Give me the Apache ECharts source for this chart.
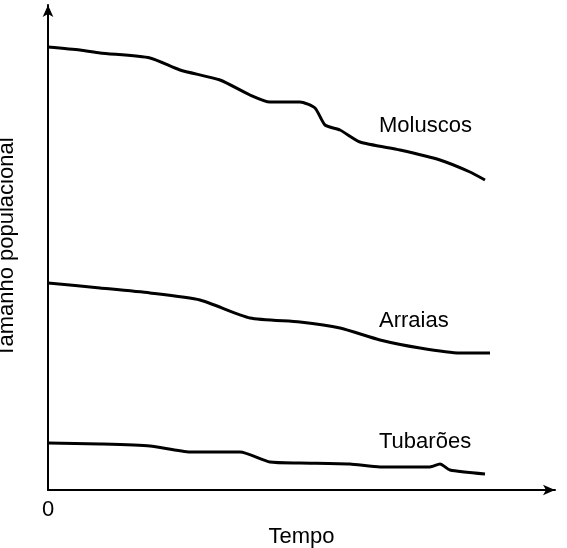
<!DOCTYPE html>
<html><head><meta charset="utf-8">
<script src="https://cdn.jsdelivr.net/npm/echarts@6/dist/echarts.min.js"></script>
<style>html,body{margin:0;padding:0;background:#fff}#c{width:567px;height:548px}</style>
</head><body><div id="c"></div>
<script>
const moluscos=[[0,443],[32,440],[52,437],[102,432],[132,420],[172,410],[202,395],[222,388],[252,388],[267,382],[277,365],[292,360],[312,348],[352,340],[392,330],[422,318],[437,310]];
const arraias=[[0,207],[52,202],[102,197],[152,190],[202,172],[252,168],[292,162],[332,150],[372,142],[412,137],[442,137]];
const tubaroes=[[0,47],[52,46],[102,44],[142,38],[192,38],[222,28],[252,27],[302,26],[332,23],[382,23],[392,26],[402,20],[437,16]];
const names=['Moluscos','Arraias','Tubarões'];
const chart=echarts.init(document.getElementById('c'));
const ln=d=>({type:'line',data:d,showSymbol:false,smooth:0.2,lineStyle:{color:'#000',width:3},silent:true});
const axl={show:true,symbol:['none','arrow'],symbolSize:[8,12],lineStyle:{color:'#000',width:2}};
const font='Liberation Sans, Arial, sans-serif';
const fs=26;
chart.setOption({
 animation:false,
 grid:{left:48,right:12,top:5,bottom:58,outerBoundsMode:'none',containLabel:false},
 xAxis:{type:'value',min:0,max:507,axisLine:axl,axisTick:{show:false},axisLabel:{show:false},splitLine:{show:false},
  name:'Tempo',nameLocation:'middle',nameGap:36,nameTextStyle:{fontSize:fs-4,color:'#000',fontFamily:font}},
 yAxis:{type:'value',min:0,max:485,axisLine:axl,axisTick:{show:false},axisLabel:{show:false},splitLine:{show:false},
  name:'Tamanho populacional',nameLocation:'middle',nameGap:30,nameTextStyle:{fontSize:fs-4,color:'#000',fontFamily:font}},
 series:[ln(moluscos),ln(arraias),ln(tubaroes)],
 graphic:[
  {type:'text',left:379,top:115,style:{text:names[0],fontSize:fs-4,fill:'#000',fontFamily:font}},
  {type:'text',left:379,top:310,style:{text:names[1],fontSize:fs-4,fill:'#000',fontFamily:font}},
  {type:'text',left:379,top:431,style:{text:names[2],fontSize:fs-4,fill:'#000',fontFamily:font}},
  {type:'text',left:42,top:499,style:{text:'0',fontSize:fs-4,fill:'#000',fontFamily:font}}
 ]
});
</script></body></html>
